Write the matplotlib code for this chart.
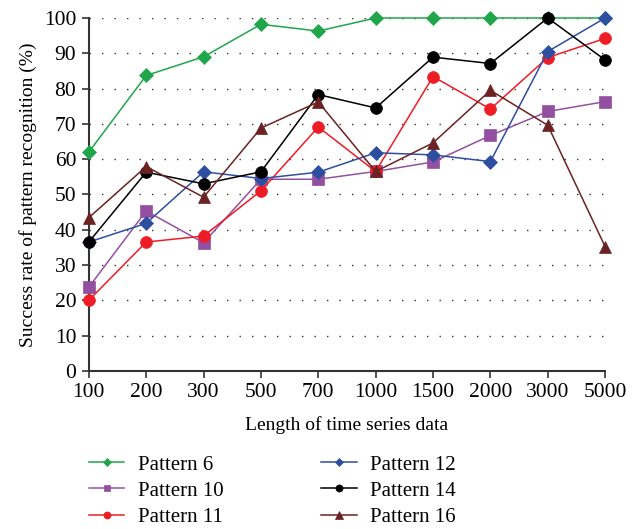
import matplotlib.pyplot as plt
import matplotlib.ticker as ticker

plt.rcParams['font.family'] = ['Liberation Serif', 'DejaVu Serif']

# data
lengths = ["100", "200", "300", "500", "700", "1000", "1500", "2000", "3000", "5000"]
pattern6 = [62, 83.7, 89, 98.2, 96.3, 100, 100, 100, 100, 100]
pattern10 = [23.7, 45.3, 36.3, 54.3, 54.3, 56.5, 59.2, 66.7, 73.5, 76.3]
pattern11 = [20, 36.5, 38.2, 51, 69.1, 56.5, 83.4, 74.2, 88.8, 94.2]
pattern12 = [36.5, 41.8, 56.4, 54.5, 56.3, 61.8, 61.2, 59.3, 90.5, 100]
pattern14 = [36.5, 56.3, 53, 56.4, 78.3, 74.5, 88.9, 87.1, 100, 88.1]
pattern16 = [43.4, 57.9, 49.2, 68.8, 76.2, 56.5, 64.6, 79.5, 69.6, 35.2]

series = [
    ("Pattern 6", pattern6, "#1fa64a", "D", 7),
    ("Pattern 10", pattern10, "#9450a0", "s", 8),
    ("Pattern 11", pattern11, "#ee1c24", "o", 8.5),
    ("Pattern 12", pattern12, "#2e4fa0", "D", 7),
    ("Pattern 14", pattern14, "#000000", "o", 8.5),
    ("Pattern 16", pattern16, "#6b2222", "^", 9),
]

fig = plt.figure(figsize=(6.39, 5.29), dpi=100)
ax = fig.add_axes([0.139, 0.299, 0.808, 0.667])

x = list(range(len(lengths)))
for name, vals, color, marker, ms in series:
    ax.plot(x, vals, color=color, marker=marker, markersize=ms, lw=1.1,
            markeredgewidth=0.5, label=name, clip_on=False, zorder=3)

ax.set_xlim(0, len(lengths) - 1)
ax.set_ylim(0, 100)
ax.set_xticks(x)
ax.set_xticklabels(lengths)
ax.yaxis.set_major_locator(ticker.MultipleLocator(10))

for s in ["top", "right"]:
    ax.spines[s].set_visible(False)
for s in ["left", "bottom"]:
    ax.spines[s].set_linewidth(1.5)
    ax.spines[s].set_color("#333333")
ax.tick_params(axis="both", direction="out", length=5, width=1.2,
               color="#333333", labelsize=15.5, pad=4)

ax.grid(axis="y", linestyle=(0, (1, 8)), color="#333333", lw=1.0)
ax.set_axisbelow(True)

ax.set_xlabel("Length of time series data", fontsize=14, labelpad=10)
ax.set_ylabel("Success rate of pattern recognition (%)", fontsize=14, labelpad=5)

# legend sits a touch higher than the reference so the last row is not clipped
leg = fig.legend(ncol=2, loc="upper left", bbox_to_anchor=(0.139, 0.14),
                 frameon=False, fontsize=15, markerscale=0.6, handlelength=1.7,
                 columnspacing=4.7, labelspacing=0.32, handletextpad=0.65,
                 borderaxespad=0, borderpad=0)

plt.savefig("out.png", dpi=100)
